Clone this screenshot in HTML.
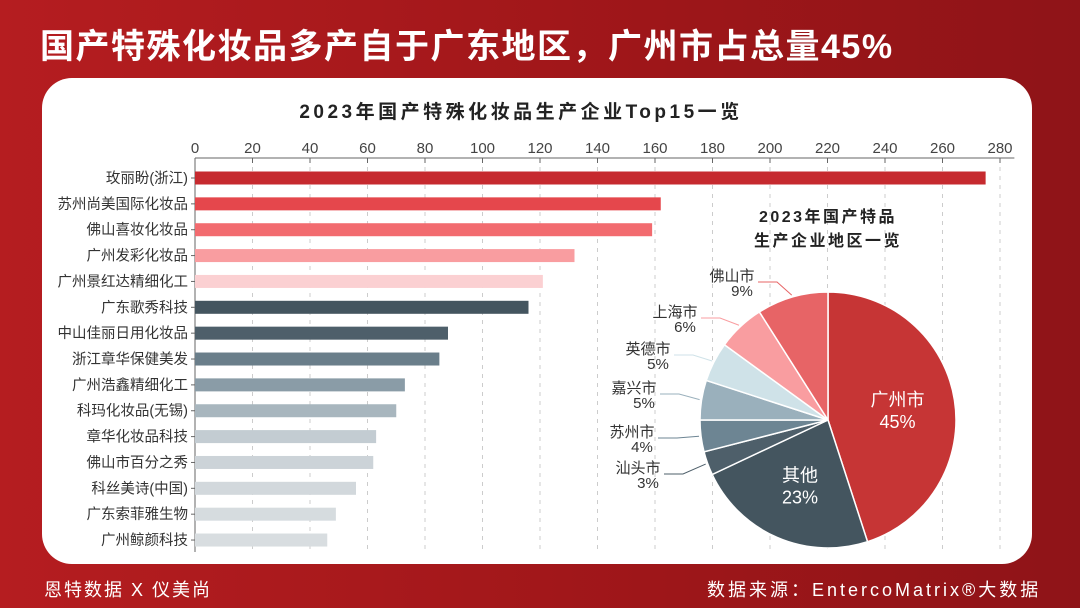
<!DOCTYPE html>
<html><head><meta charset="utf-8"><style>
body{margin:0;width:1080px;height:608px;overflow:hidden;background:#a8181b;font-family:"Liberation Sans","Noto Sans CJK SC",sans-serif}
#bg{position:absolute;left:0;top:0;width:1080px;height:608px;background:linear-gradient(90deg,#b51d20,#9e1619 60%,#8f1418)}
#title{position:absolute;left:40px;top:19px;color:#fff;font-size:34px;font-weight:bold;letter-spacing:1.5px}
#panel{position:absolute;left:42px;top:78px;width:990px;height:486px;background:#fff;border-radius:30px}
.foot{position:absolute;top:576px;color:#fff;font-size:18px;letter-spacing:2px}
svg{position:absolute;left:0;top:0}
</style></head><body>
<div id="bg"></div>
<div id="title">国产特殊化妆品多产自于广东地区，广州市占总量45%</div>
<div id="panel"></div>
<div class="foot" style="left:44px">恩特数据 X 仪美尚</div>
<div class="foot" style="left:707px;letter-spacing:3px">数据来源：EntercoMatrix®大数据</div>
<svg id="chart" width="1080" height="608"></svg>
<script>
const companies=["玫丽盼(浙江)","苏州尚美国际化妆品","佛山喜妆化妆品","广州发彩化妆品","广州景红达精细化工","广东歌秀科技","中山佳丽日用化妆品","浙江章华保健美发","广州浩鑫精细化工","科玛化妆品(无锡)","章华化妆品科技","佛山市百分之秀","科丝美诗(中国)","广东索菲雅生物","广州鲸颜科技"];
const counts=[275,162,159,132,121,116,88,85,73,70,63,62,56,49,46];
const xTicks=[0,20,40,60,80,100,120,140,160,180,200,220,240,260,280];
const regions=["广州市","其他","汕头市","苏州市","嘉兴市","英德市","上海市","佛山市"];
const shares=[45,23,3,4,5,5,6,9];
const barColors=["#c62a2f","#e5474c","#f26b6f","#f99da0","#fbd0d2","#44555f","#4e5f6a","#6a7e8a","#8a9ca7","#a8b6be","#c3ccd2","#ccd3d8","#d2d8dc","#d6dcdf","#d8dde0"];
const pieColors=["#c63535","#44555f","#4e5f6a","#6d8593","#9ab0bc","#cfe2e8","#f99da0","#e76466"];
const NS="http://www.w3.org/2000/svg",svg=document.getElementById('chart');
function el(t,a,txt){const e=document.createElementNS(NS,t);for(const k in a)e.setAttribute(k,a[k]);if(txt!=null)e.textContent=txt;svg.appendChild(e);return e;}
const x0=195,kx=2.875;const X=v=>x0+v*kx;const Y=i=>178+i*25.86;
let t=el('text',{x:521,y:118,'text-anchor':'middle','font-size':19,'font-weight':'bold','letter-spacing':3.5,fill:'#222'},'2023年国产特殊化妆品生产企业Top15一览');

xTicks.forEach(v=>{
 let g=el('line',{x1:X(v),x2:X(v),y1:158,y2:552,stroke:'#ccc','stroke-dasharray':'4 5'});
 
 let tk=el('line',{x1:X(v),x2:X(v),y1:158,y2:163,stroke:'#666'});
 
 let l=el('text',{x:X(v),y:153,'text-anchor':'middle','font-size':15,fill:'#444'},v);
 
});
let ax=el('line',{x1:x0,x2:X(285),y1:158,y2:158,stroke:'#666'});
let ay=el('line',{x1:x0,x2:x0,y1:158,y2:552,stroke:'#666'});
companies.forEach((c,i)=>{
 let b=el('rect',{x:x0,y:Y(i)-6.5,width:counts[i]*kx,height:13,fill:barColors[i]});
 
 el('line',{x1:x0-4,x2:x0,y1:Y(i),y2:Y(i),stroke:'#666'});
 let l=el('text',{x:x0-7,y:Y(i)+5,'text-anchor':'end','font-size':14.5,fill:'#333'},c);
 
});
let pt=el('text',{x:828,y:222,'text-anchor':'middle','font-size':16,'font-weight':'bold','letter-spacing':2.5,fill:'#222'},'2023年国产特品');

let pt2=el('text',{x:828,y:246,'text-anchor':'middle','font-size':16,'font-weight':'bold','letter-spacing':2.5,fill:'#222'},'生产企业地区一览');

const cx=828,cy=420,r=128;const total=shares.reduce((a,b)=>a+b,0);
let ang=0;
const labelPos={2:[638,468],3:[632,432],4:[634,388],5:[648,349],6:[675,312],7:[732,276]};
shares.forEach((s,i)=>{
 const a0=ang,a1=ang+s/total*2*Math.PI;ang=a1;
 const p=a=>[cx+r*Math.sin(a),cy-r*Math.cos(a)];
 const [x1,y1]=p(a0),[x2,y2]=p(a1);
 let sl=el('path',{d:`M${cx},${cy}L${x1},${y1}A${r},${r} 0 ${a1-a0>Math.PI?1:0} 1 ${x2},${y2}Z`,fill:pieColors[i],stroke:'#fff','stroke-width':1.5});
 
 const mid=(a0+a1)/2;
 if(labelPos[i]){
  const [lx,ly]=labelPos[i];
  const [ex,ey]=[cx+(r+2)*Math.sin(mid),cy-(r+2)*Math.cos(mid)];
  let ll=el('polyline',{points:`${lx+26},${ly+6} ${lx+45},${ly+6} ${ex},${ey}`,fill:'none',stroke:pieColors[i],'stroke-width':1});
  
  let a=el('text',{x:lx,y:ly+5,'text-anchor':'middle','font-size':15,fill:'#333'},regions[i]);
  
  let b=el('text',{x:lx+10,y:ly+20,'text-anchor':'middle','font-size':15,fill:'#333'},s+'%');
  
 }else{
  const lr=r*0.55,lx=cx+lr*Math.sin(mid),ly=cy-lr*Math.cos(mid);
  let a=el('text',{x:lx,y:ly-3,'text-anchor':'middle','font-size':18,fill:'#fff'},regions[i]);
  
  let b=el('text',{x:lx,y:ly+19,'text-anchor':'middle','font-size':18,fill:'#fff'},s+'%');
  
 }
});
</script>
</body></html>
